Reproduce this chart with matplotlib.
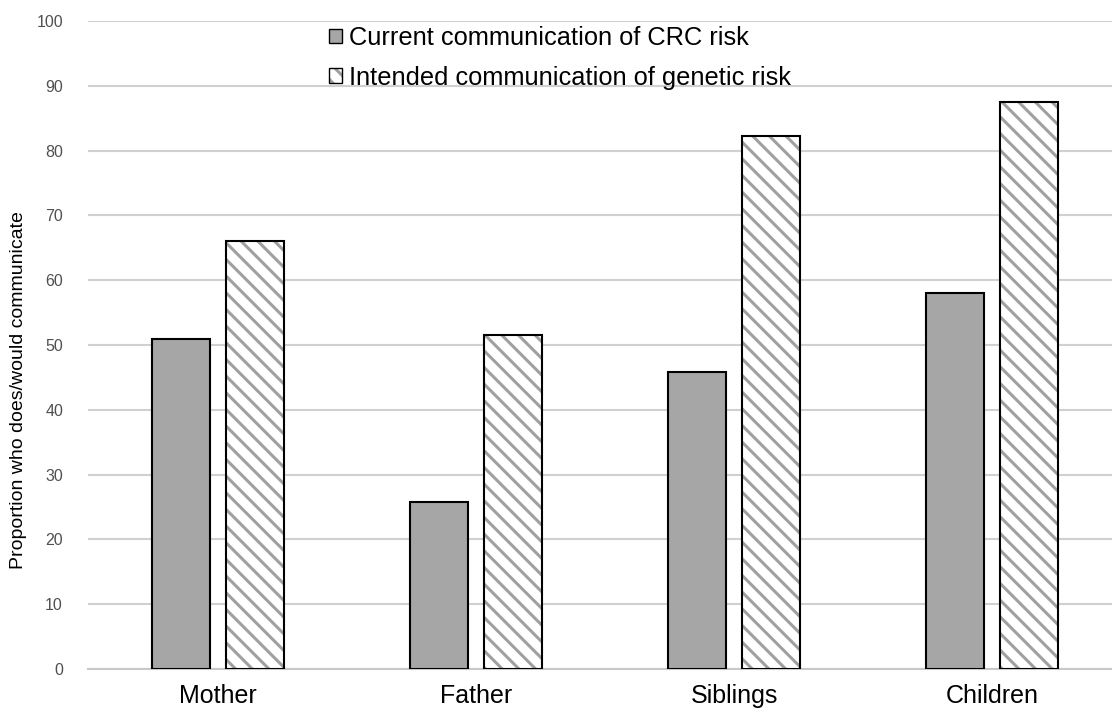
import matplotlib
matplotlib.use("Agg")
import matplotlib.pyplot as plt
import numpy as np
from matplotlib.patches import Patch

categories = ["Mother", "Father", "Siblings", "Children"]
current = [51.0, 25.7, 45.8, 58.0]
intended = [66.0, 51.5, 82.3, 87.5]
series_labels = ["Current communication of CRC risk", "Intended communication of genetic risk"]
yticks = list(range(0, 101, 10))

plt.rcParams['font.family'] = ['Liberation Sans', 'DejaVu Sans']
plt.rcParams['hatch.linewidth'] = 2.2

W, H = 1112, 712
fig = plt.figure(figsize=(W / 100, H / 100), dpi=100)
ax = fig.add_axes([88 / W, 1 - 669 / H, 1 - 88 / W, (669 - 21) / H])

x = np.arange(len(categories))
w = 0.225
off = 0.143
gray = '#a6a6a6'
hgray = '#a0a0a0'

ax.bar(x - off, current, width=w, color=gray, edgecolor='black', linewidth=1.5, zorder=3)
ax.bar(x + off, intended, width=w, color='white', edgecolor=hgray, hatch='\\\\', linewidth=0, zorder=3)
ax.bar(x + off, intended, width=w, fill=False, edgecolor='black', linewidth=1.5, zorder=4)

ax.set_xlim(-0.504, 3.465)
ax.set_ylim(0, 100)
ax.set_yticks(yticks)
ax.set_xticks(x)
ax.set_xticklabels(categories, fontsize=18)
ax.tick_params(axis='y', labelsize=11.5, labelcolor='#505050', length=0, pad=18)
ax.tick_params(axis='x', length=0, pad=11)
ax.yaxis.grid(True, color='#d0d0d0', linewidth=1.5, zorder=0)
ax.set_axisbelow(True)
for s in ['left', 'right', 'top']:
    ax.spines[s].set_visible(False)
ax.spines['bottom'].set_color('#c8c8c8')
ax.spines['bottom'].set_linewidth(1.5)
fig.text(19 / W, 1 - 390 / H, "Proportion who does/would communicate", rotation=90,
         ha='center', va='center', fontsize=14)

h1 = Patch(facecolor=gray, edgecolor='black', linewidth=1.0)
h2a = Patch(facecolor='white', edgecolor=hgray, hatch='\\\\', linewidth=0)
h2b = Patch(fill=False, edgecolor='black', linewidth=1.0)
leg = fig.legend([h1, (h2a, h2b)], series_labels, loc='upper left',
                 bbox_to_anchor=(329 / W, 1 - 26 / H),
                 frameon=False, fontsize=18.3, handlelength=0.5, handleheight=0.5,
                 handletextpad=0.3, labelspacing=0.62, borderpad=0, borderaxespad=0)

fig.savefig("out.png", dpi=100)
